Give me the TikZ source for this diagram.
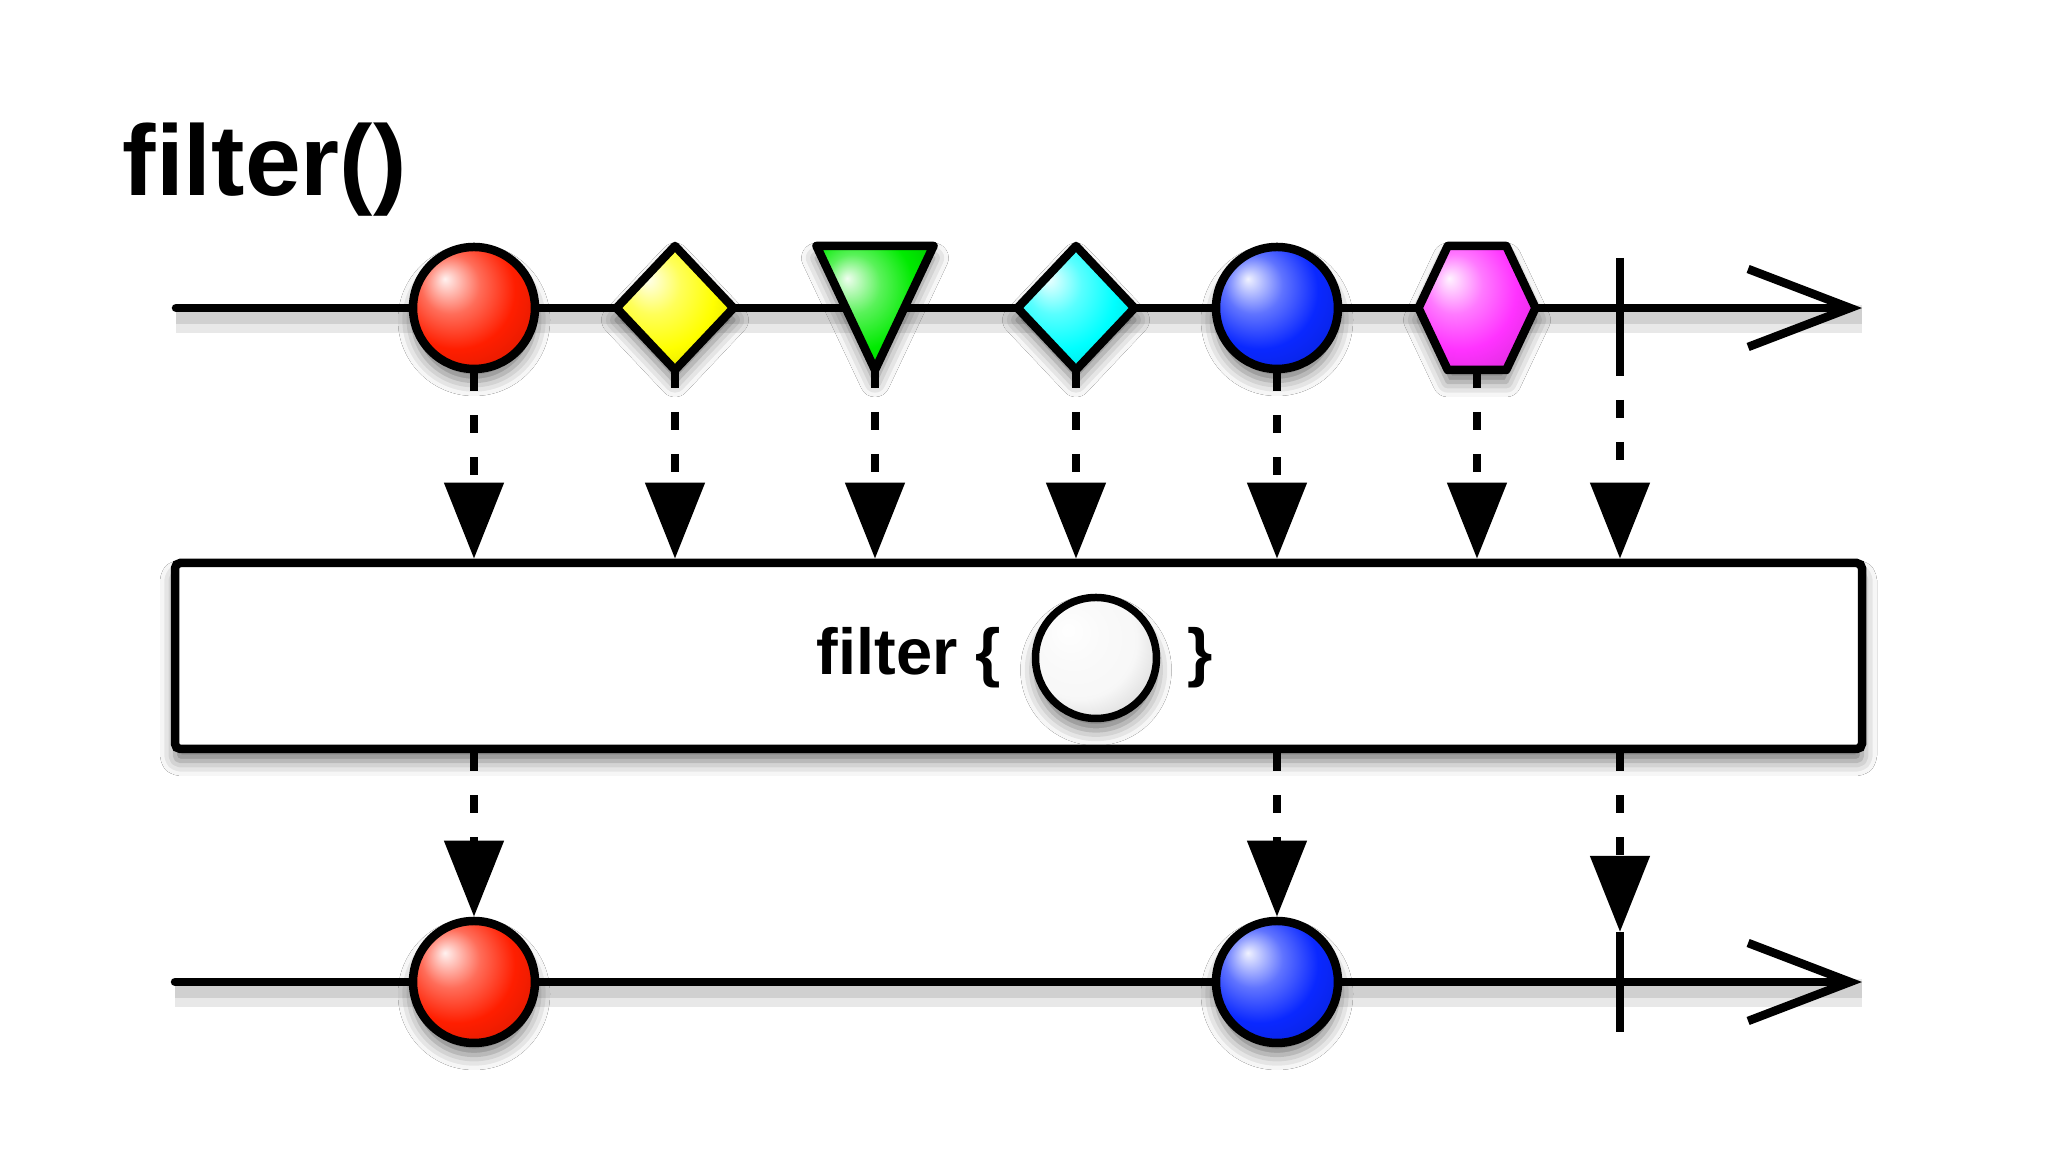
\documentclass[tikz,border=0pt]{standalone}
\usepackage{fontspec}
\setmainfont{Liberation Sans}
\usetikzlibrary{arrows.meta,positioning,calc,shadows.blur}

\definecolor{mred}{RGB}{255,30,0}
\definecolor{myellow}{RGB}{255,255,0}
\definecolor{mgreen}{RGB}{0,235,0}
\definecolor{mcyan}{RGB}{0,255,255}
\definecolor{mblue}{RGB}{10,40,255}
\definecolor{mpink}{RGB}{255,50,255}
\colorlet{marblecol}{red}
\pgfdeclareradialshading[marblecol]{marble}{\pgfpoint{-12bp}{12bp}}{%
	color(0bp)=(marblecol!6!white);
	color(12bp)=(marblecol!65!white);
	color(24bp)=(marblecol);
	color(40bp)=(marblecol!82!black);
	color(60bp)=(marblecol!60!black)}

\begin{document}
\begin{tikzpicture}[
	soft/.style={blur shadow={shadow xshift=0cm, shadow yshift=-0.12cm, shadow blur radius=0.15cm, shadow opacity=55}},
	marble/.style={draw, line width=0.085cm, line join=round, soft, /utils/exec={\colorlet{marblecol}{#1}}, shade, shading=marble},
	slot/.style={minimum width=1.17cm, minimum height=1.24cm, inner sep=0, outer sep=0},
	lineshadow/.style={preaction={draw=black, opacity=0.09, line width=0.28cm, -, transform canvas={yshift=-0.11cm}}, preaction={draw=black, opacity=0.10, line width=0.16cm, -, transform canvas={yshift=-0.08cm}}},
	timeline/.style={line width=0.085cm, line cap=round, lineshadow, -{Straight Barb[length=1.02cm 0, width=0.78cm 0]}},
	flow/.style={line width=0.08cm, opacity=1, dash pattern=on 0.18cm off 0.24cm, -{Triangle[length=0.76cm 0, width=0.58cm 0, fill=black]}},
	stopbar/.style={line width=0.075cm},
	opbox/.style={draw, line width=0.085cm, fill=white, soft, rounded corners=1.5pt, minimum width=16.87cm, minimum height=1.86cm, inner sep=0},
	bold/.style={font=\bfseries\fontsize{#1}{#1}\selectfont, inner sep=0}]
	\path[use as bounding box, fill=white] (0,0) rectangle (20.48,11.52);
	\node[bold=28.5, anchor=base west] (title) at (1.22,9.56) {filter()};
	\coordinate (in start) at (1.76,8.44);
	\coordinate (in end) at (18.62,8.44);
	\coordinate (out start) at (1.75,1.70);
	\coordinate (out end) at (18.62,1.70);
	\draw[timeline] (in start) -- (in end);
	\draw[timeline] (out start) -- (out end);

	\node[circle, marble=mred, minimum size=1.22cm, inner sep=0] (m1) at (4.74,8.44) {};
	\node[slot] (m2) at (6.75,8.44) {};
	\draw[marble=myellow] (m2.west) -- (m2.north) -- (m2.east) -- (m2.south) -- cycle;
	\node[slot] (m3) at (8.75,8.44) {};
	\draw[marble=mgreen] (m3.north west) -- (m3.north east) -- (m3.south) -- cycle;
	\node[slot] (m4) at (10.76,8.44) {};
	\draw[marble=mcyan] (m4.west) -- (m4.north) -- (m4.east) -- (m4.south) -- cycle;
	\node[circle, marble=mblue, minimum size=1.22cm, inner sep=0] (m5) at (12.77,8.44) {};
	\node[slot] (m6) at (14.77,8.44) {};
	\draw[marble=mpink] (m6.west) -- ($(m6.north west)!0.25!(m6.north east)$) -- ($(m6.north west)!0.75!(m6.north east)$) -- (m6.east) -- ($(m6.south west)!0.75!(m6.south east)$) -- ($(m6.south west)!0.25!(m6.south east)$) -- cycle;
	\node[slot, minimum width=0, minimum height=1.0cm] (m7) at (16.20,8.44) {};
	\draw[stopbar] (m7.north) -- (m7.south);

	\node[opbox] (op) at (10.185,4.96) {};
	\node[circle, marble=black!3, line width=0.075cm, minimum size=1.21cm, inner sep=0] (pred) at (10.96,4.94) {};
	\node[bold=18.5, left=0.3cm of pred] (fname) {filter \{};
	\node[bold=18.5, right=0.27cm of pred] (fclose) {\}};

	\draw[flow] (m1.south) -- (m1.south |- op.north);
	\draw[flow] (m2.south) -- (m2.south |- op.north);
	\draw[flow] (m3.south) -- (m3.south |- op.north);
	\draw[flow] (m4.south) -- (m4.south |- op.north);
	\draw[flow] (m5.south) -- (m5.south |- op.north);
	\draw[flow] (m6.south) -- (m6.south |- op.north);
	\draw[flow] (m7.south) -- (m7.south |- op.north);

	\node[circle, marble=mred, minimum size=1.22cm, inner sep=0] (o1) at (4.74,1.70) {};
	\node[circle, marble=mblue, minimum size=1.22cm, inner sep=0] (o2) at (12.77,1.70) {};
	\node[slot, minimum width=0, minimum height=1.0cm] (o3) at (16.20,1.70) {};
	\draw[stopbar] (o3.north) -- (o3.south);

	\draw[flow] (o1 |- op.south) -- (o1.north);
	\draw[flow] (o2 |- op.south) -- (o2.north);
	\draw[flow] (o3 |- op.south) -- (o3.north);
\end{tikzpicture}
\end{document}
